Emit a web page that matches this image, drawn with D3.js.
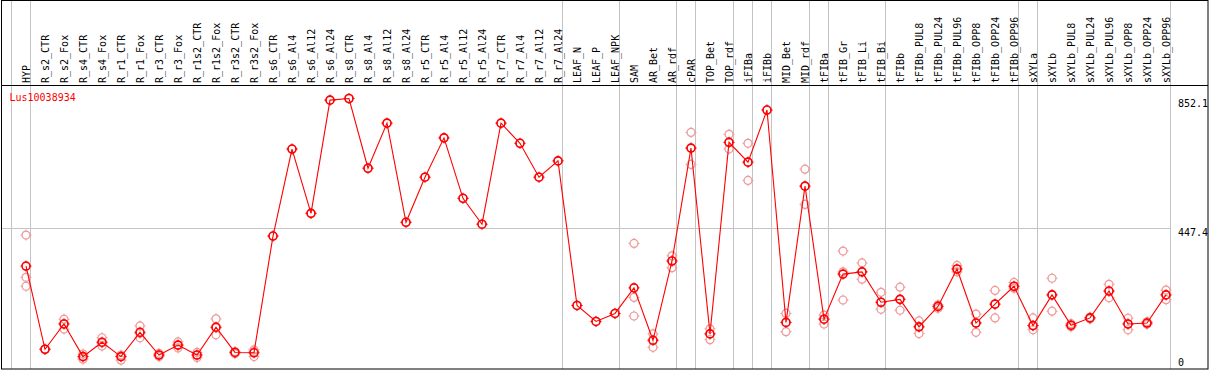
<!DOCTYPE html>
<html>
<head>
<meta charset="utf-8">
<script src="https://cdn.jsdelivr.net/npm/d3@7"></script>
<style>
  html, body { margin: 0; padding: 0; background: #fff; }
  svg { display: block; }
  text { font-family: "DejaVu Sans Mono", monospace; font-size: 10px; }
</style>
</head>
<body>
<svg id="chart" width="1209" height="370"></svg>
<script>
// ---------- data ----------
const geneName = "Lus10038934";
const categories = ["HYP","R_s2_CTR","R_s2_Fox","R_s4_CTR","R_s4_Fox","R_r1_CTR","R_r1_Fox","R_r3_CTR","R_r3_Fox",
  "R_r1s2_CTR","R_r1s2_Fox","R_r3s2_CTR","R_r3s2_Fox","R_s6_CTR","R_s6_Al4","R_s6_Al12","R_s6_Al24",
  "R_s8_CTR","R_s8_Al4","R_s8_Al12","R_s8_Al24","R_r5_CTR","R_r5_Al4","R_r5_Al12","R_r5_Al24",
  "R_r7_CTR","R_r7_Al4","R_r7_Al12","R_r7_Al24","LEAF_N","LEAF_P","LEAF_NPK","SAM","AR_Bet","AR_rdf",
  "cPAR","TOP_Bet","TOP_rdf","iFIBa","iFIBb","MID_Bet","MID_rdf","tFIBa","tFIB_Gr","tFIB_Li","tFIB_Bi",
  "tFIBb","tFIBb_PUL8","tFIBb_PUL24","tFIBb_PUL96","tFIBb_OPP8","tFIBb_OPP24","tFIBb_OPP96",
  "sXYLa","sXYLb","sXYLb_PUL8","sXYLb_PUL24","sXYLb_PUL96","sXYLb_OPP8","sXYLb_OPP24","sXYLb_OPP96"];

const meanValues = [328,68,147,45,90,45,121,50,81,50,137,58,57,
  422,694,493,847,852.1,634,775,465,606,729,540,459,775,712,606,657,
  205,155,180,260,96,344,697,116,715,653,816,152,578,162,303,310,215,
  224,138,202,319,150,209,265,142,238,143,166,250,147,150,238];

const replicateValues = [
  [425,293,265],[68,68,68],[162,148,131],[53,45,37],[104,88,78],[50,45,34],[141,118,104],[55,50,45],[91,81,72],
  [58,50,42],[163,135,113],[61,58,54],[66,60,45],
  [422],[694],[493],[847],[852.1],[634],[775],[465],[606],[729],[540],[459],[775],[712],[606],[657],
  [205],[155],[180],[399,230,172],[116,96,74],[360,344,323],[746,697,646],[132,116,98],[740,715,694],
  [712,653,596],[816],[180,152,123],[631,578,521],[175,162,147],[375,310,222],[338,310,287],[246,215,193],
  [262,224,190],[157,138,117],[207,202,196],[330,319,310],[178,150,121],[252,209,166],[277,265,259],
  [166,142,129],[290,238,187],[148,143,138],[168,166,163],[271,250,229],[165,147,129],[154,150,146],[253,238,223]];

const groupStarts = ["HYP","R_s2_CTR","LEAF_N","SAM","cPAR","TOP_Bet","iFIBa","iFIBb","MID_Bet","tFIBa",
  "tFIB_Gr","tFIBb","sXYLa","sXYLb"];
const yTickValues = [0, 447.4, 852.1];
const yTickLabels = ["0", "447.4", "852.1"];

// ---------- layout ----------
const W = 1209, H = 370;
const headerBottom = 85.5;
const plotBottom = 369;
const svg = d3.select("#chart");

const x = d3.scalePoint().domain(categories).range([26, 1166]);
const step = x.step();
const y = d3.scaleLinear().domain([0, 852.1]).range([371, 98.5]);

const gray = "#c4c4c4";

// group separators (vertical gray)
const sepX = groupStarts.map(c => x(c) - 15).concat([x(categories[categories.length - 1]) + step - 15]);
svg.append("g").selectAll("line").data(sepX).join("line")
  .attr("x1", d => Math.round(d) + 0.5).attr("x2", d => Math.round(d) + 0.5)
  .attr("y1", 0).attr("y2", plotBottom)
  .attr("stroke", gray).attr("stroke-width", 1);

// horizontal mid grid line
svg.append("line")
  .attr("x1", 1).attr("x2", sepX[sepX.length - 1])
  .attr("y1", Math.round(y(447.4)) + 0.5).attr("y2", Math.round(y(447.4)) + 0.5)
  .attr("stroke", gray).attr("stroke-width", 1);

// frame
svg.append("rect").attr("x", 1.5).attr("y", 0.5).attr("width", 1206.5).attr("height", plotBottom - 0.5)
  .attr("fill", "none").attr("stroke", "#000").attr("stroke-width", 1);
svg.append("line").attr("x1", 1).attr("x2", 1208).attr("y1", headerBottom).attr("y2", headerBottom)
  .attr("stroke", "#000").attr("stroke-width", 1);

// category labels (vertical)
svg.append("g").selectAll("text").data(categories).join("text")
  .attr("transform", d => `translate(${x(d) + 3.8},83) rotate(-90)`)
  .attr("text-anchor", "start")
  .attr("fill", "#000")
  .text(d => d);

// gene name
svg.append("text").attr("x", 9.5).attr("y", 101).attr("fill", "#ff0000").text(geneName);

// y labels on the right
svg.append("g").selectAll("text").data(yTickValues).join("text")
  .attr("x", 1178)
  .attr("y", d => Math.min(y(d) + 8.5, 365.5))
  .attr("fill", "#000")
  .text((d, i) => yTickLabels[i]);

// marker drawing helper
const r = 4;
function marker(g, color, sw) {
  g.append("circle").attr("r", r).attr("fill", "none").attr("stroke", color).attr("stroke-width", sw);
  g.append("path")
    .attr("d", `M0,${-r - 1.5}V${-r + 0.5}M0,${r - 0.5}V${r + 1.5}M${-r - 1.5},0H${-r + 0.5}M${r - 0.5},0H${r + 1.5}`)
    .attr("stroke", color).attr("stroke-width", 1).attr("fill", "none");
}

// replicates
const reps = [];
replicateValues.forEach((arr, i) => arr.forEach(v => reps.push({ c: categories[i], v })));
svg.append("g").selectAll("g").data(reps).join("g")
  .attr("transform", d => `translate(${x(d.c)},${y(d.v)})`)
  .each(function () { marker(d3.select(this), "#ee9a9a", 1.2); });

// mean line
const meanData = categories.map((c, i) => ({ c, v: meanValues[i] }));
svg.append("path").datum(meanData)
  .attr("d", d3.line().x(d => x(d.c)).y(d => y(d.v)))
  .attr("fill", "none").attr("stroke", "#ff0000").attr("stroke-width", 1.1);

// mean markers
svg.append("g").selectAll("g").data(meanData).join("g")
  .attr("transform", d => `translate(${x(d.c)},${y(d.v)})`)
  .each(function () { marker(d3.select(this), "#ff0000", 1.6); });
</script>
</body>
</html>
